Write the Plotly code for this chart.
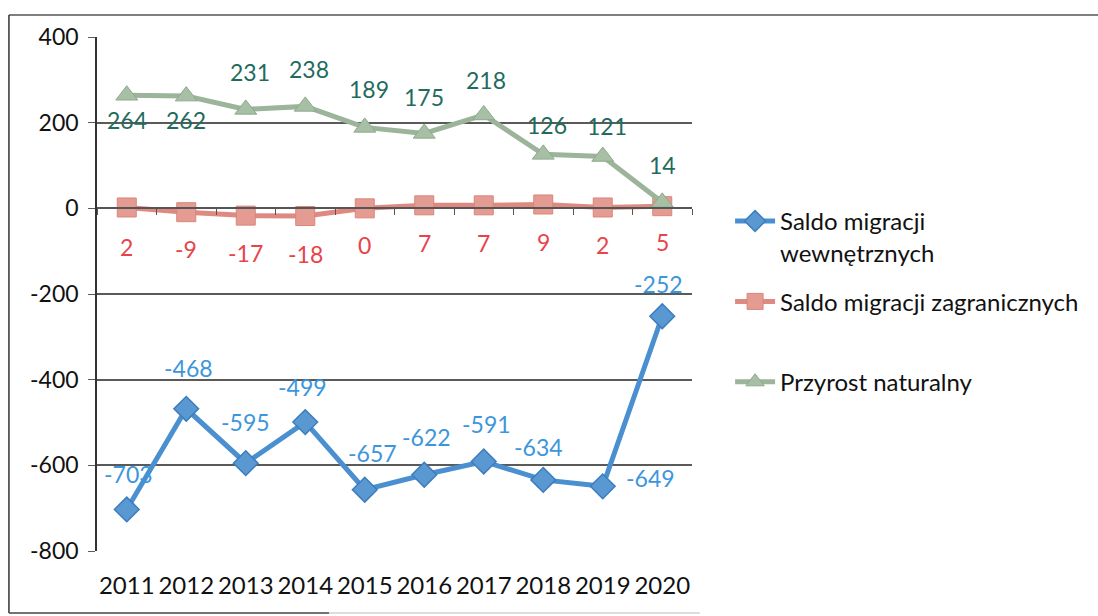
import plotly.graph_objects as go

YEARS = ["2011", "2012", "2013", "2014", "2015", "2016", "2017", "2018", "2019", "2020"]
WEWN = [-703, -468, -595, -499, -657, -622, -591, -634, -649, -252]
ZAGR = [2, -9, -17, -18, 0, 7, 7, 9, 2, 5]
PRZYROST = [264, 262, 231, 238, 189, 175, 218, 126, 121, 14]
NAMES = ["Saldo migracji<br>wewnętrznych", "Saldo migracji zagranicznych<br> ", "Przyrost naturalny"]
Y_TICKS = [-800, -600, -400, -200, 0, 200, 400]
Y_TICKTEXT = [str(v) for v in Y_TICKS]

FONT = "Lato"

# label offsets (pixels) - style only
OFF_WEWN = [(2, 35), (2, 41), (0, 41), (-3, 35), (8, 37), (2, 38), (3, 37), (-5, 33), (48, 8), (-4, 32)]
OFF_PRZ = [(0, -25), (0, -24), (4, 37), (4, 37), (4, 38), (0, 36), (2, 35), (4, 29), (4, 31), (0, 37)]
OFF_ZAGR = [(0, -40), (0, -37), (0, -37), (0, -38), (0, -37), (0, -38), (0, -38), (0, -38), (0, -38), (0, -36)]

fig = go.Figure()

fig.add_trace(go.Scatter(
    x=YEARS, y=WEWN, name=NAMES[0], mode="lines+markers", legendgroup="a",
    line=dict(color="#4A8FCF", width=5),
    marker=dict(symbol="diamond", size=19, color="#5A98D2", line=dict(color="#3C7DBE", width=1.5)),
))
fig.add_trace(go.Scatter(
    x=YEARS, y=ZAGR, name=NAMES[1], mode="lines+markers", legendgroup="b",
    line=dict(color="#DE8A80", width=5),
    marker=dict(symbol="square", size=19, color="#E49C92", line=dict(color="#D9857B", width=1)),
))
fig.add_trace(go.Scatter(
    x=YEARS, y=PRZYROST, name=NAMES[2], mode="lines+markers", legendgroup="c",
    line=dict(color="#9CB59A", width=5),
    marker=dict(symbol="triangle-up", size=19, color="#A7BFA5", line=dict(color="#8FA98D", width=1)),
))
# helper trace for the zero-line category axis
fig.add_trace(go.Scatter(x=YEARS, y=[None] * len(YEARS), xaxis="x2", showlegend=False,
                         hoverinfo="skip", mode="markers"))

ann = []
for vals, offs, col in ((WEWN, OFF_WEWN, "#3C96DC"), (PRZYROST, OFF_PRZ, "#1F6B5E"), (ZAGR, OFF_ZAGR, "#E8434A")):
    for i, (v, (dx, dy)) in enumerate(zip(vals, offs)):
        ann.append(dict(x=i, y=v, xref="x", yref="y", text=str(v), showarrow=False,
                        xshift=dx, yshift=dy,
                        font=dict(family=FONT, size=23, color=col)))

fig.update_layout(
    width=1098, height=616,
    margin=dict(l=97, r=406, t=37, b=65),
    paper_bgcolor="white", plot_bgcolor="white",
    font=dict(family=FONT, size=23, color="#111111"),
    showlegend=True,
    legend=dict(x=1.064, xanchor="left", y=0.685, yanchor="top", valign="top",
                tracegroupgap=15, font=dict(family=FONT, size=24, color="#111111"),
                itemwidth=40, bgcolor="rgba(0,0,0,0)"),
    xaxis=dict(type="category", categoryorder="array", categoryarray=YEARS,
               range=[-0.5, 9.5], showgrid=False, showline=False, ticks="",
               ticklabelstandoff=18, tickfont=dict(family=FONT, size=24, color="#111111")),
    xaxis2=dict(type="category", categoryorder="array", categoryarray=YEARS,
                range=[-0.5, 9.5], overlaying="x", anchor="free", position=800 / 1200,
                showline=True, linecolor="#555555", linewidth=1.5, ticks="outside",
                tickson="boundaries", ticklen=6, tickcolor="#555555",
                showticklabels=False, showgrid=False),
    yaxis=dict(range=[-800, 400], tickvals=Y_TICKS, ticktext=Y_TICKTEXT, showgrid=True,
               gridcolor="#5a5a5a", gridwidth=1.5, zeroline=False, showline=True,
               linecolor="#333333", linewidth=1.5,
               ticks="outside", ticklen=7, tickcolor="#5a5a5a", ticklabelstandoff=5,
               tickfont=dict(family=FONT, size=23, color="#111111")),
    annotations=ann,
    shapes=[
        dict(type="line", xref="paper", yref="paper", x0=-0.148, x1=1.7, y0=1.0428, y1=1.0428,
             line=dict(color="#555555", width=1.5)),
        dict(type="line", xref="paper", yref="paper", x0=-0.148, x1=-0.148, y0=1.0428, y1=-0.1206,
             line=dict(color="#333333", width=1.5)),
        dict(type="line", xref="paper", yref="paper", x0=-0.148, x1=0.39, y0=-0.1206, y1=-0.1206,
             line=dict(color="#444444", width=1.5)),
        dict(type="line", xref="paper", yref="paper", x0=0.39, x1=1.013, y0=-0.1206, y1=-0.1206,
             line=dict(color="#bbbbbb", width=1)),
    ],
)

fig.write_html(
    "out.html",
    config={"displayModeBar": False},
    post_script="document.body.style.margin='0';document.body.style.overflow='hidden';"
                "document.documentElement.style.overflow='hidden';",
)
